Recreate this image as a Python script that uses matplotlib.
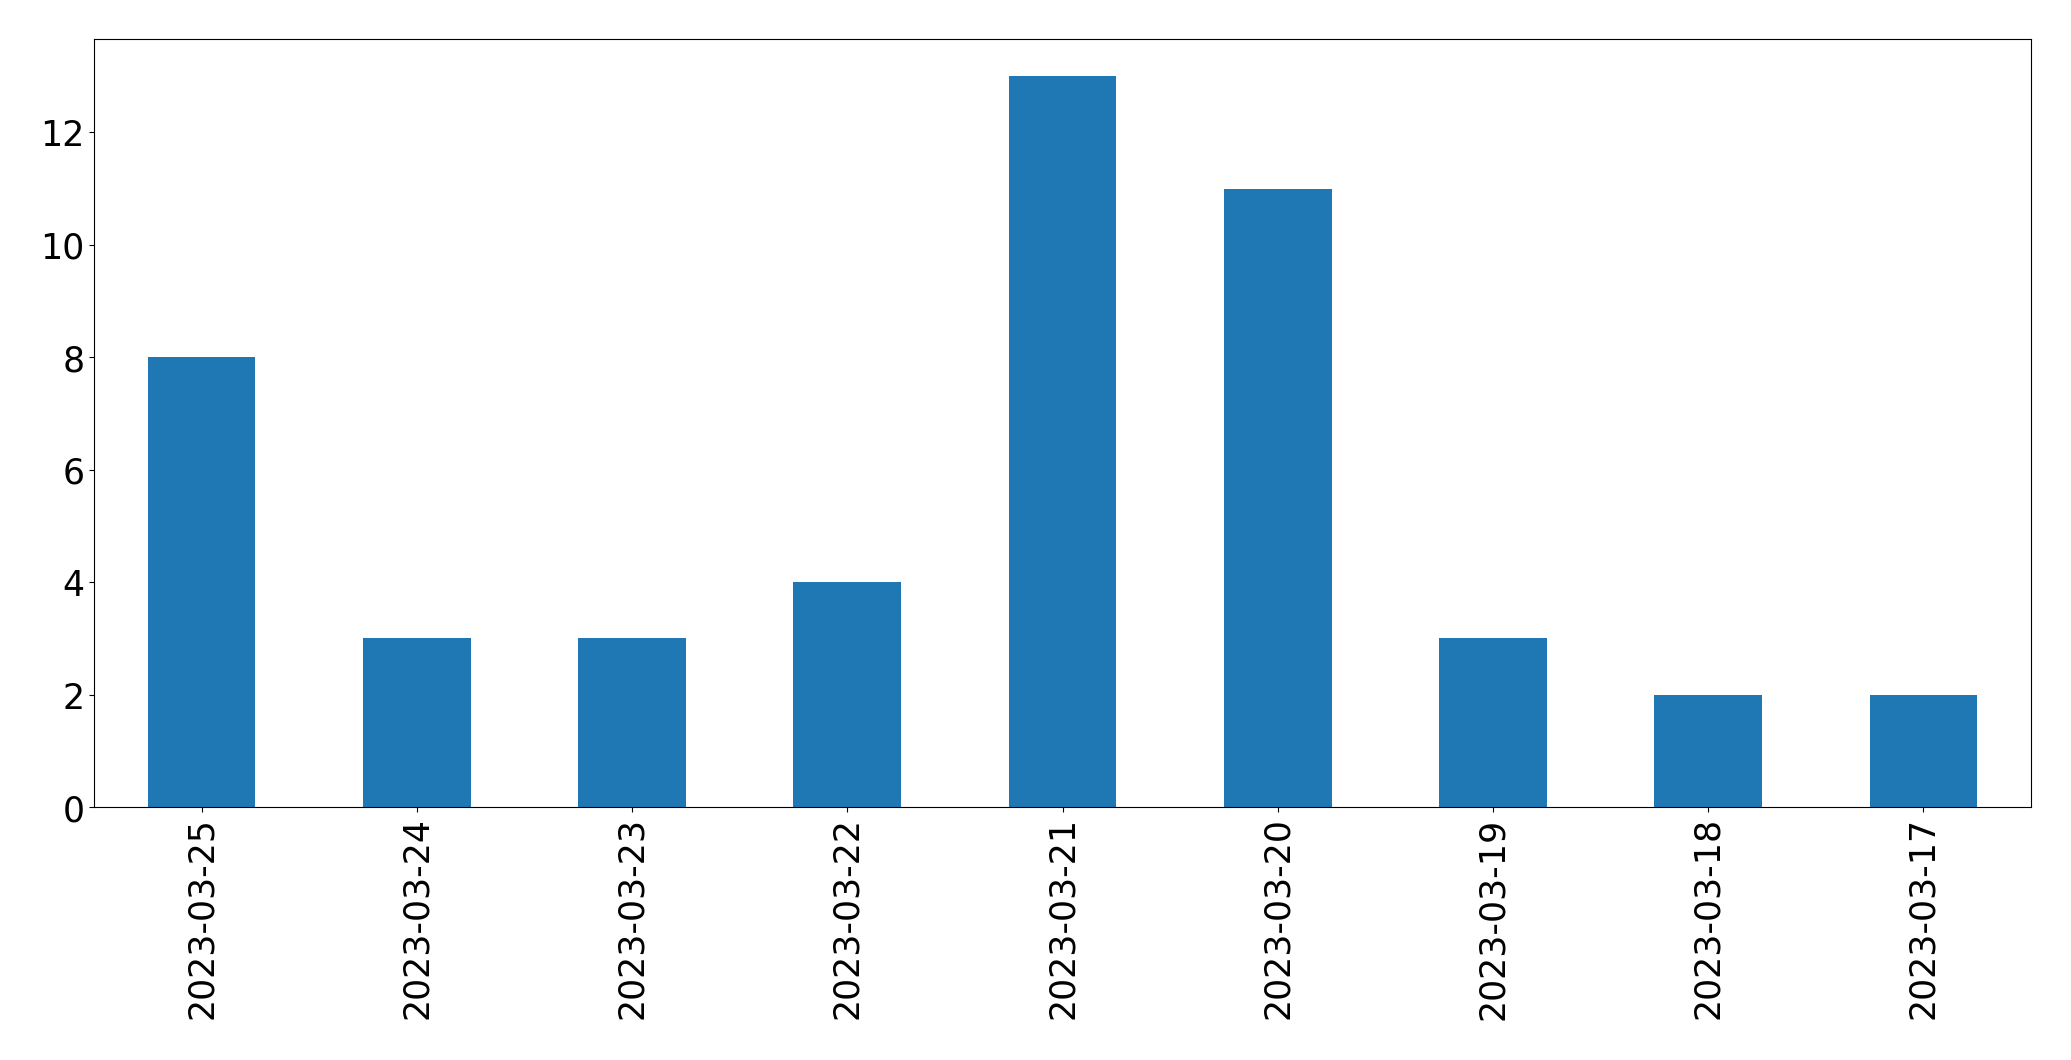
import matplotlib
matplotlib.use("Agg")
import matplotlib.pyplot as plt
import pandas as pd

dates = ["2023-03-25", "2023-03-24", "2023-03-23", "2023-03-22", "2023-03-21",
         "2023-03-20", "2023-03-19", "2023-03-18", "2023-03-17"]
counts = [8, 3, 3, 4, 13, 11, 3, 2, 2]

series = pd.Series(counts, index=dates)

fig = plt.figure(figsize=(20.71, 10.605), dpi=100)
ax = fig.add_axes([0.0454, 0.2385, 0.9353, 0.7238])
series.plot(kind="bar", ax=ax, color="#1f77b4")
ax.tick_params(axis="both", labelsize=25)

fig.savefig("out.png", dpi=100)
